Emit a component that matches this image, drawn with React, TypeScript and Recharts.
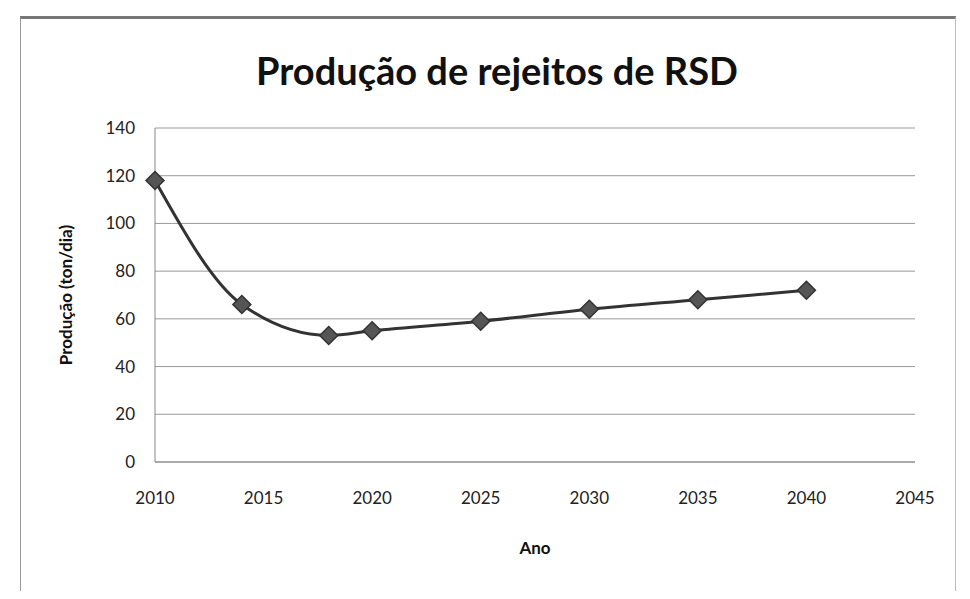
import { LineChart, Line, XAxis, YAxis, CartesianGrid, Label } from "recharts";

const anos = [2010, 2014, 2018, 2020, 2025, 2030, 2035, 2040];
const producao = [118, 66, 53, 55, 59, 64, 68, 72];
const ticksX = [2010, 2015, 2020, 2025, 2030, 2035, 2040, 2045];
const ticksY = [0, 20, 40, 60, 80, 100, 120, 140];

const dados = anos.map((ano, i) => ({ ano, valor: producao[i] }));

const FONTE = "Lato, 'Open Sans', sans-serif";
const COR_TEXTO = "#222";

function Losango(props: any) {
  const { cx, cy } = props;
  if (cx == null || cy == null) return null;
  const r = 9;
  return (
    <polygon
      points={`${cx},${cy - r} ${cx + r},${cy} ${cx},${cy + r} ${cx - r},${cy}`}
      fill="#555"
      stroke="#333"
      strokeWidth={1.5}
    />
  );
}

export default function App() {
  return (
    <div
      style={{
        position: "relative",
        width: 970,
        height: 599,
        margin: -8,
        background: "#fff",
        fontFamily: FONTE,
        overflow: "hidden",
      }}
    >
      {/* moldura da área do gráfico */}
      <div
        style={{
          position: "absolute",
          left: 20,
          top: 16,
          width: 934,
          height: 572,
          borderTop: "3px solid #777",
          borderLeft: "1px solid #999",
          borderRight: "1px solid #bbb",
          borderBottom: "1px solid #bbb",
        }}
      />
      <div
        style={{
          position: "absolute",
          left: 0,
          top: 47,
          width: 994,
          textAlign: "center",
          fontSize: 38,
          fontWeight: 700,
          color: "#111",
        }}
      >
        Produção de rejeitos de RSD
      </div>
      <LineChart
        width={970}
        height={599}
        data={dados}
        margin={{ top: 128, right: 55, bottom: 107, left: 40 }}
        style={{ position: "absolute", left: 0, top: 0 }}
      >
        <CartesianGrid vertical={false} stroke="#999" strokeWidth={1} />
        <XAxis
          dataKey="ano"
          type="number"
          domain={[2010, 2045]}
          ticks={ticksX}
          tickLine={false}
          axisLine={{ stroke: "#888" }}
          tick={{ fill: COR_TEXTO, fontSize: 17, fontFamily: FONTE }}
          tickMargin={24}
          interval={0}
        >
          <Label
            value="Ano"
            position="bottom"
            offset={50}
            style={{ fontSize: 17, fontWeight: 700, fill: "#111", fontFamily: FONTE }}
          />
        </XAxis>
        <YAxis
          type="number"
          domain={[0, 140]}
          ticks={ticksY}
          width={115}
          tickLine={false}
          axisLine={{ stroke: "#888" }}
          tick={{ fill: COR_TEXTO, fontSize: 17, fontFamily: FONTE }}
          tickMargin={14}
          interval={0}
        >
          <Label
            value="Produção (ton/dia)"
            angle={-90}
            position="insideLeft"
            offset={26}
            style={{
              textAnchor: "middle",
              fontSize: 17,
              fontWeight: 700,
              fill: "#111",
              fontFamily: FONTE,
            }}
          />
        </YAxis>
        <Line
          type="monotone"
          dataKey="valor"
          stroke="#333"
          strokeWidth={3}
          dot={<Losango />}
          activeDot={false}
          isAnimationActive={false}
        />
      </LineChart>
    </div>
  );
}
